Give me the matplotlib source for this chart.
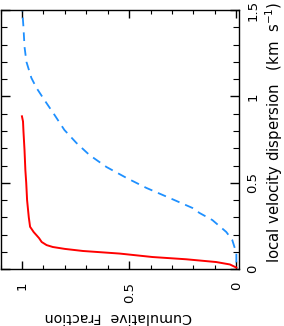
import matplotlib
matplotlib.use("Agg")
import matplotlib.pyplot as plt
from matplotlib.ticker import MultipleLocator

# Data (cumulative fraction vs local velocity dispersion, km/s)
red_frac = [0.0, 0.03, 0.094, 0.234, 0.391, 0.544, 0.716, 0.80, 0.856, 0.885,
            0.908, 0.92, 0.932, 0.945, 0.962, 0.968, 0.976, 0.98, 0.984, 0.988,
            0.993, 0.995, 1.0]
red_vel = [0.01, 0.028, 0.042, 0.058, 0.071, 0.091, 0.106, 0.118, 0.129, 0.14,
           0.158, 0.18, 0.197, 0.215, 0.246, 0.30, 0.40, 0.50, 0.573, 0.69,
           0.80, 0.855, 0.885]

blue_frac = [0.0, 0.0, 0.019, 0.047, 0.112, 0.172, 0.205, 0.312, 0.42, 0.513,
             0.606, 0.685, 0.746, 0.802, 0.848, 0.895, 0.932, 0.956, 0.979,
             0.988, 0.993, 0.998, 1.0]
blue_vel = [0.04, 0.094, 0.169, 0.216, 0.285, 0.326, 0.355, 0.413, 0.471, 0.529,
            0.592, 0.661, 0.731, 0.806, 0.893, 0.979, 1.049, 1.107, 1.2,
            1.287, 1.402, 1.489, 1.55]

frac_ticks = [0, 0.5, 1]
frac_labels = ["0", "0.5", "1"]
vel_ticks = [0, 0.5, 1, 1.5]
vel_labels = ["0", "0.5", "1", "1.5"]

W, H = 284, 326
fig = plt.figure(figsize=(W / 100, H / 100), dpi=100)
ax = fig.add_axes([0.5 / W, 1 - 269.3 / H, 238 / W, 259.3 / H])

ax.plot(red_frac, red_vel, color="#ff0000", lw=1.4, solid_joinstyle="round")
ax.plot(blue_frac, blue_vel, color="#1e90ff", lw=1.3, dashes=(4.8, 3.4))

ax.set_xlim(1.1, -0.01)
ax.set_ylim(0, 1.5)

for s in ax.spines.values():
    s.set_linewidth(1.0)

ax.set_xticks(frac_ticks)
ax.set_xticklabels(frac_labels, rotation=90, va="top", ha="center")
ax.xaxis.set_minor_locator(MultipleLocator(0.1))
ax.set_yticks(vel_ticks)
ax.set_yticklabels(vel_labels, rotation=90, va="center", ha="left")
ax.yaxis.set_minor_locator(MultipleLocator(0.1))
ax.yaxis.tick_right()

ax.tick_params(axis="x", which="major", direction="in", length=5.5, width=1.0,
               top=True, bottom=True, labelsize=9.5, pad=9)
ax.tick_params(axis="x", which="minor", direction="in", length=3, width=0.8,
               top=True, bottom=True)
ax.tick_params(axis="y", which="major", direction="in", length=6.5, width=1.0,
               left=True, right=True, labelleft=False, labelright=True,
               labelsize=9.5, pad=5.5)
ax.tick_params(axis="y", which="minor", direction="in", length=4, width=0.8,
               left=True, right=True)

fig.text(118 / W, 1 - 317 / H, "Cumulative  Fraction", rotation=180,
         ha="center", va="center", fontsize=10.3)
fig.text(274 / W, 1 - 132 / H, "local velocity dispersion   (km  s$^{-1}$)",
         rotation=90, ha="center", va="center", fontsize=10.7)

fig.savefig("out.png", dpi=100)
